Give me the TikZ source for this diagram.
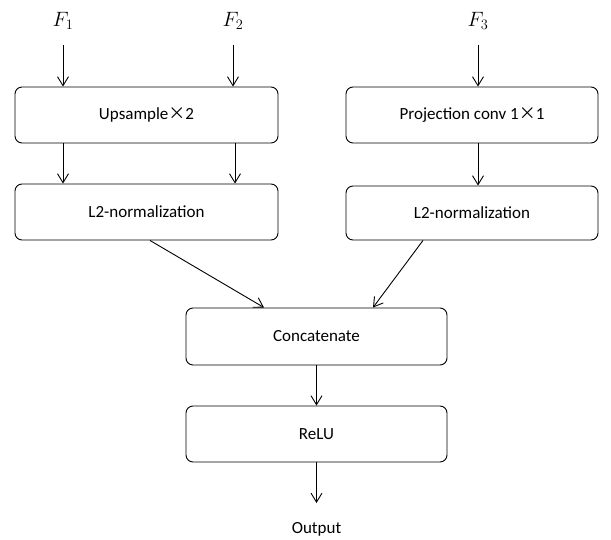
\documentclass[tikz,border=0pt]{standalone}
\usepackage{fontspec}
\setmainfont{Carlito}
\newfontfamily\cjkx{Noto Sans CJK SC}
\usetikzlibrary{arrows.meta}
\newcommand{\tms}{{\cjkx ×}}
\begin{document}
\begin{tikzpicture}[x=1pt,y=-1pt,
  box/.style={draw, rounded corners=7pt, line width=0.9pt, inner sep=0pt, font=\fontsize{17}{19}\selectfont},
  arr/.style={draw, line width=0.9pt, -{Straight Barb[length=9pt,width=11pt,line width=0.9pt]}},
  lbl/.style={inner sep=0pt, font=\fontsize{17}{19}\selectfont}]
\useasboundingbox (0,0) rectangle (611,540);
\node[box, minimum width=263pt, minimum height=56pt] (up) at (146.5,115) {Upsample\tms2};
\node[box, minimum width=263pt, minimum height=56pt] (l2a) at (146.5,212) {L2-normalization};
\node[box, minimum width=252pt, minimum height=56pt] (proj) at (472,115) {Projection conv 1\tms1};
\node[box, minimum width=252pt, minimum height=54pt] (l2b) at (472,213) {L2-normalization};
\node[box, minimum width=261pt, minimum height=57pt] (cat) at (316.5,336.5) {Concatenate};
\node[box, minimum width=261pt, minimum height=56pt] (relu) at (316.5,434) {ReLU};
\node[lbl, font=\fontsize{20}{22}\selectfont] (f1) at (63,21) {$F_1$};
\node[lbl, font=\fontsize{20}{22}\selectfont] (f2) at (233,21) {$F_2$};
\node[lbl, font=\fontsize{20}{22}\selectfont] (f3) at (478,21) {$F_3$};
\node[lbl] (out) at (316.5,529) {Output};
\coordinate (f1s) at (63,45);
\coordinate (f2s) at (233,45);
\coordinate (f3s) at (478,45);
\coordinate (outend) at (316.5,503);
\draw[arr] (f1s) -- (f1s |- up.north);
\draw[arr] (f2s) -- (f2s |- up.north);
\draw[arr] (f3s) -- (f3s |- proj.north);
\draw[arr] (up.south -| f1s) -- (l2a.north -| f1s);
\draw[arr] (up.south -| 235,0) -- (l2a.north -| 235,0);
\draw[arr] (proj.south -| f3s) -- (l2b.north -| f3s);
\draw[arr] (l2a.south -| 150,0) -- (cat.north -| 264,0);
\draw[arr] (l2b.south -| 423,0) -- (cat.north -| 373,0);
\draw[arr] (cat) -- (relu);
\draw[arr] (relu.south) -- (outend);
\end{tikzpicture}
\end{document}
